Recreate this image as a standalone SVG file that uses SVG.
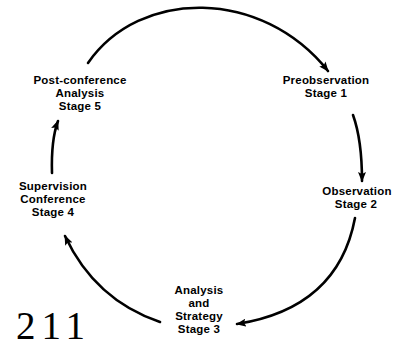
<svg xmlns="http://www.w3.org/2000/svg" width="400" height="346" viewBox="0 0 400 346">
<style>
.lbl{font-family:"Liberation Sans",Arial,sans-serif;font-weight:bold;font-size:11.5px;fill:#000;text-anchor:middle;letter-spacing:0.2px}
.arc{fill:none;stroke:#000;stroke-width:2.6;stroke-linecap:round}
.pg{font-family:"Liberation Serif","Times New Roman",serif;font-size:39px;fill:#000;letter-spacing:6px}
</style>
<defs>
<marker id="ah" markerWidth="10" markerHeight="8" refX="9" refY="4" orient="auto" markerUnits="userSpaceOnUse">
<path d="M0,0 L10,4 L0,8 L2,4 Z" fill="#000"/>
</marker>
</defs>
<rect width="400" height="346" fill="#fff"/>
<g id="connectors">
<path class="arc" d="M88,63 C140,-12 262,-12 328,71" marker-end="url(#ah)"/>
<path class="arc" d="M353,115 Q362,140 362,181" marker-end="url(#ah)"/>
<path class="arc" d="M355,218 Q338,308 237,324" marker-end="url(#ah)"/>
<path class="arc" d="M160,322 Q95,300 65,236" marker-end="url(#ah)"/>
<path class="arc" d="M52,173 Q51,140 58,121" marker-end="url(#ah)"/>
</g>
<g id="stage5">
<text class="lbl" x="80" y="84">Post-conference</text>
<text class="lbl" x="80" y="97">Analysis</text>
<text class="lbl" x="80" y="110">Stage 5</text>
</g>
<g id="stage1">
<text class="lbl" x="326" y="84">Preobservation</text>
<text class="lbl" x="326" y="97">Stage 1</text>
</g>
<g id="stage2">
<text class="lbl" x="357" y="195">Observation</text>
<text class="lbl" x="356" y="208">Stage 2</text>
</g>
<g id="stage3">
<text class="lbl" x="199" y="294">Analysis</text>
<text class="lbl" x="199" y="307">and</text>
<text class="lbl" x="199" y="320">Strategy</text>
<text class="lbl" x="199" y="333">Stage 3</text>
</g>
<g id="stage4">
<text class="lbl" x="53" y="190">Supervision</text>
<text class="lbl" x="53" y="203">Conference</text>
<text class="lbl" x="53" y="216">Stage 4</text>
</g>
<text class="pg" x="16" y="339">211</text>
</svg>
